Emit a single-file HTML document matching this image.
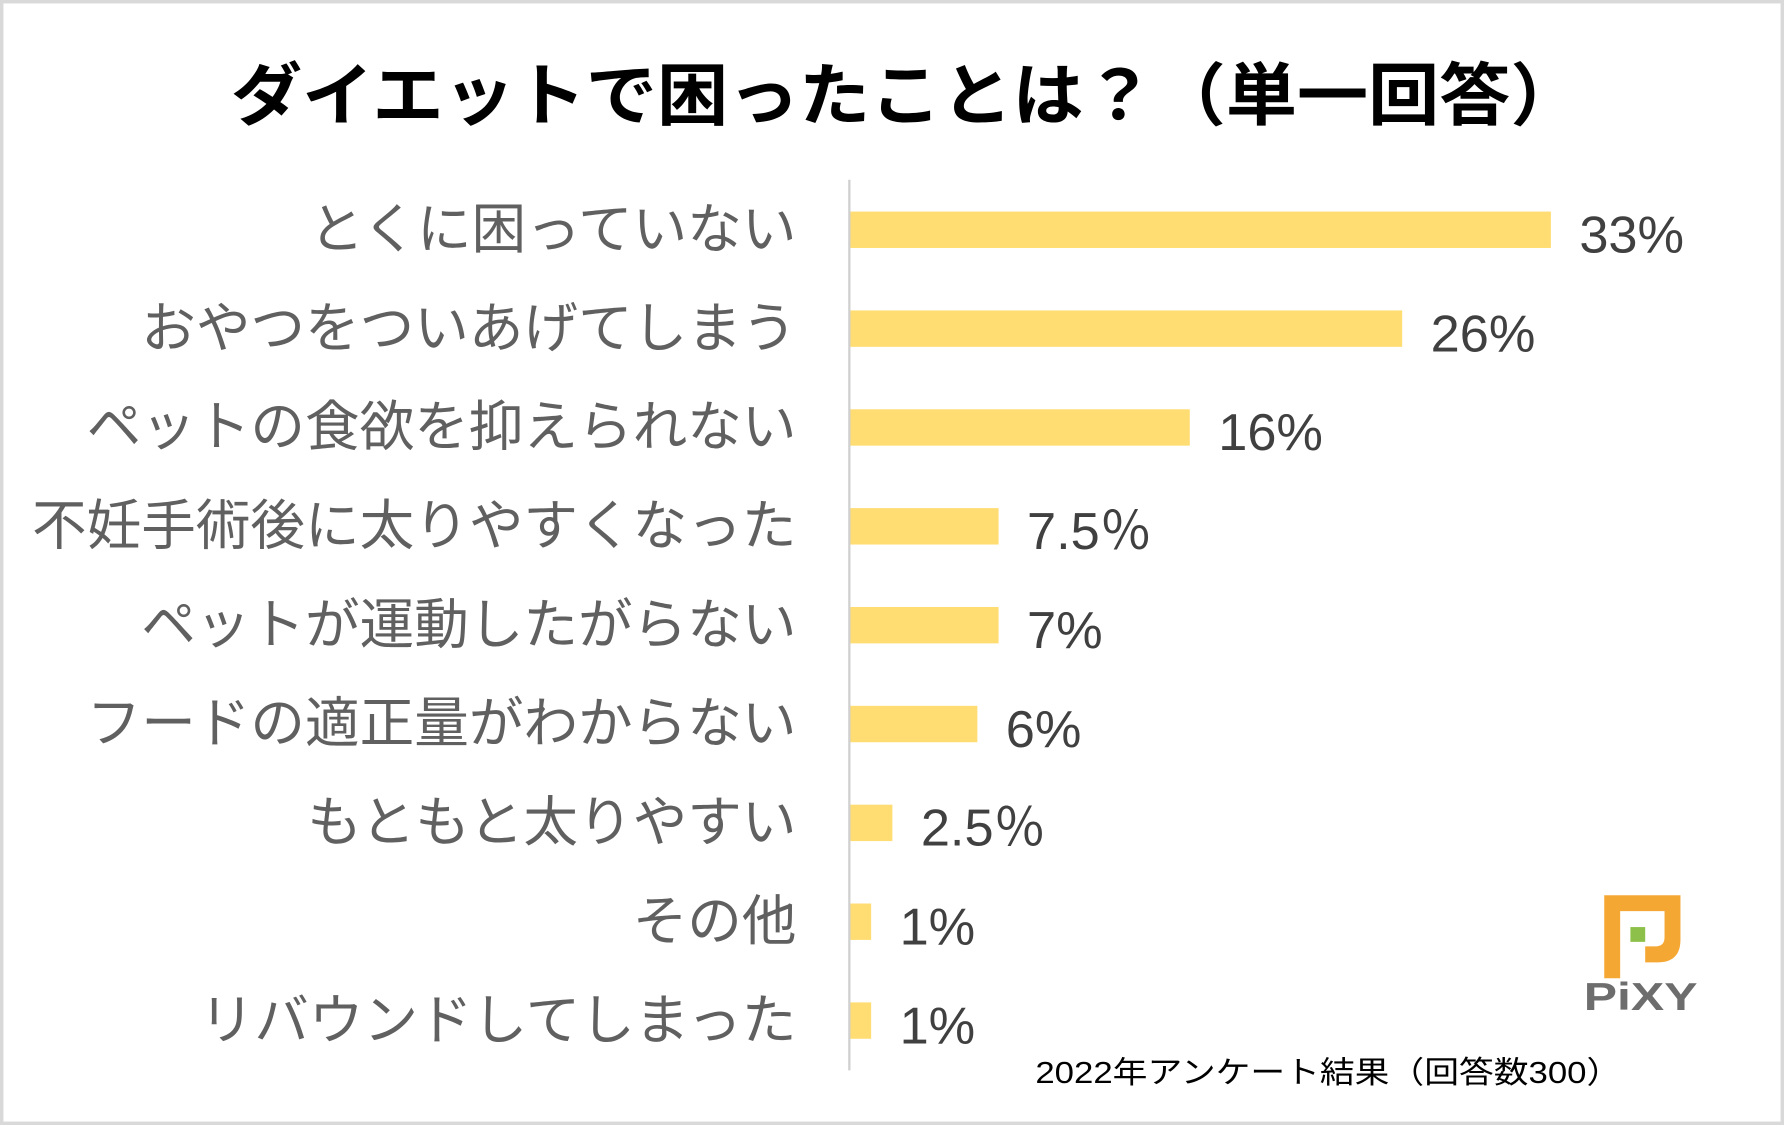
<!DOCTYPE html>
<html><head><meta charset="utf-8"><style>
html,body{margin:0;padding:0;background:#fff;}
svg{display:block;}
text{font-family:"Liberation Sans","Noto Sans CJK JP",sans-serif;}
</style></head><body>
<svg id="chart" width="1784" height="1125" viewBox="0 0 1568 989" preserveAspectRatio="none" xmlns="http://www.w3.org/2000/svg">
<rect x="1.5" y="1.5" width="1565" height="986" fill="#fff" stroke="#d9d9d9" stroke-width="3"/>
<text x="203" y="105" font-size="60" font-weight="bold" fill="#000" textLength="1187" lengthAdjust="spacingAndGlyphs">ダイエットで困ったことは？（単一回答）</text>
<g id="bars"></g>
<line x1="746.5" y1="158" x2="746.5" y2="941" stroke="#d0d0d0" stroke-width="2"/>
<text x="910" y="952" font-size="27" fill="#000" textLength="515" lengthAdjust="spacingAndGlyphs">2022年アンケート結果（回答数300）</text>
<g>
<path d="M1410 787 H1477 V826 Q1477 846 1457 846 H1446 V832 H1455 Q1463 832 1463 824 V801 H1424 V860 H1410 Z" fill="#f5a733"/>
<rect x="1433" y="815" width="13" height="13" fill="#8dc04a"/>
<text x="1392" y="888" font-size="34" font-weight="bold" fill="#6d6d6d" textLength="100" lengthAdjust="spacingAndGlyphs">PiXY</text>
</g>
</svg>
<script>
const categories = ["とくに困っていない","おやつをついあげてしまう","ペットの食欲を抑えられない","不妊手術後に太りやすくなった","ペットが運動したがらない","フードの適正量がわからない","もともと太りやすい","その他","リバウンドしてしまった"];
const values = [33, 26, 16, 7, 7, 6, 2, 1, 1];
const valueLabels = ["33%","26%","16%","7.5％","7%","6%","2.5％","1%","1%"];
const NS = "http://www.w3.org/2000/svg";
const x0 = 747, pxPerPct = 18.67;
const xScale = v => x0 + v * pxPerPct;
const yTop = 158, band = 86.9;
const yCenter = i => yTop + 44 + i * band;
const g = document.getElementById('bars');
categories.forEach((c, i) => {
  const cy = yCenter(i);
  const r = document.createElementNS(NS, 'rect');
  
  
  r.setAttribute('x', x0);
  r.setAttribute('y', cy - 16);
  r.setAttribute('width', xScale(values[i]) - x0);
  r.setAttribute('height', 32);
  r.setAttribute('fill', '#ffdd73');
  g.appendChild(r);
  const lab = document.createElementNS(NS, 'text');
  
  
  lab.setAttribute('x', 700);
  lab.setAttribute('y', cy + 16);
  lab.setAttribute('text-anchor', 'end');
  lab.setAttribute('font-size', '48');
  lab.setAttribute('fill', '#606060');
  lab.textContent = c;
  g.appendChild(lab);
  const vl = document.createElementNS(NS, 'text');
  
  
  vl.setAttribute('x', xScale(values[i]) + 25);
  vl.setAttribute('y', cy + 20);
  vl.setAttribute('font-size', '46');
  vl.setAttribute('fill', '#404040');
  vl.textContent = valueLabels[i];
  g.appendChild(vl);
});
</script>
</body></html>
